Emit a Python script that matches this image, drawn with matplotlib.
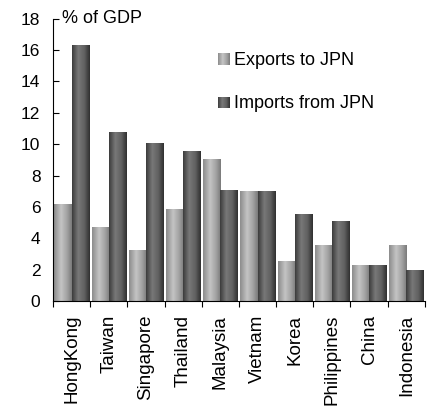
import numpy as np
import matplotlib
matplotlib.use("Agg")
import matplotlib.pyplot as plt
from matplotlib.legend_handler import HandlerBase
from matplotlib.patches import Rectangle
from matplotlib.colors import LinearSegmentedColormap

plt.rcParams['font.family'] = ['Liberation Sans', 'DejaVu Sans']

countries = ["HongKong", "Taiwan", "Singapore", "Thailand", "Malaysia",
             "Vietnam", "Korea", "Philippines", "China", "Indonesia"]
exports_to_jpn = [6.2, 4.7, 3.25, 5.85, 9.05, 7.0, 2.55, 3.6, 2.3, 3.55]
imports_from_jpn = [16.3, 10.75, 10.1, 9.55, 7.05, 7.0, 5.55, 5.1, 2.3, 1.95]
yticks = [0, 2, 4, 6, 8, 10, 12, 14, 16, 18]

# horizontal shading across each bar (cylinder look)
light_cmap = LinearSegmentedColormap.from_list(
    "light", [(0.0, "#8c8c8c"), (0.4, "#c4c4c4"), (0.75, "#a0a0a0"), (1.0, "#7a7a7a")])
dark_cmap = LinearSegmentedColormap.from_list(
    "dark", [(0.0, "#3c3c3c"), (0.35, "#787878"), (0.7, "#606060"), (1.0, "#303030")])
grad = np.linspace(0, 1, 64).reshape(1, -1)

fig = plt.figure(figsize=(4.34, 4.13), dpi=100)
ax = fig.add_axes([0.122, 0.271, 0.857, 0.684])

x = np.arange(len(countries))
w = 0.46


def shaded_bars(xs, heights, cmap):
    bars = ax.bar(xs, heights, width=w, align="edge", facecolor="none",
                  edgecolor="none")
    for b in bars:
        x0, y0 = b.get_x(), b.get_y()
        im = ax.imshow(grad, cmap=cmap, aspect="auto",
                       extent=[x0, x0 + b.get_width(), y0, y0 + b.get_height()],
                       interpolation="bilinear", zorder=2)
        im.set_clip_path(b)
    return bars


shaded_bars(x - w, exports_to_jpn, light_cmap)
shaded_bars(x, imports_from_jpn, dark_cmap)

ax.set_xlim(-0.5, len(countries) - 0.5)
ax.set_ylim(0, 18)
ax.set_yticks(yticks)
ax.set_yticklabels([str(t) for t in yticks], fontsize=12.5)
ax.tick_params(axis="y", direction="in", length=4, width=0.8, pad=9)

ax.set_xticks(np.arange(len(countries) + 1) - 0.5)
ax.set_xticklabels([])
ax.tick_params(axis="x", direction="out", length=4, width=0.8)
ax.set_xticks(x, minor=True)
ax.set_xticklabels(countries, minor=True, rotation=90, fontsize=13.5)
ax.tick_params(axis="x", which="minor", length=0, pad=10)

for s in ("top", "right"):
    ax.spines[s].set_visible(False)
for s in ("left", "bottom"):
    ax.spines[s].set_linewidth(0.8)

ax.text(0.025, 18, "% of GDP", fontsize=13, va="center", ha="left",
        transform=ax.get_yaxis_transform())


class GradientHandler(HandlerBase):
    def __init__(self, cmap):
        super().__init__()
        self.cmap = cmap

    def create_artists(self, legend, orig_handle, xdescent, ydescent,
                       width, height, fontsize, trans):
        n = 12
        side = height * 0.9
        x0 = xdescent + width - side
        arts = []
        for i in range(n):
            r = Rectangle((x0 + i * side / n, -ydescent), side / n + 0.2, side,
                          facecolor=self.cmap((i + 0.5) / n), edgecolor="none",
                          transform=trans)
            arts.append(r)
        return arts


h1 = Rectangle((0, 0), 1, 1)
h2 = Rectangle((0, 0), 1, 1)
ax.legend([h1, h2], ["Exports to JPN", "Imports from JPN"],
          handler_map={h1: GradientHandler(light_cmap), h2: GradientHandler(dark_cmap)},
          loc="upper left", bbox_to_anchor=(0.398, 0.94), frameon=False,
          fontsize=13, labelspacing=1.45, handlelength=0.7, handletextpad=0.25)

fig.savefig("out.png", dpi=100)
